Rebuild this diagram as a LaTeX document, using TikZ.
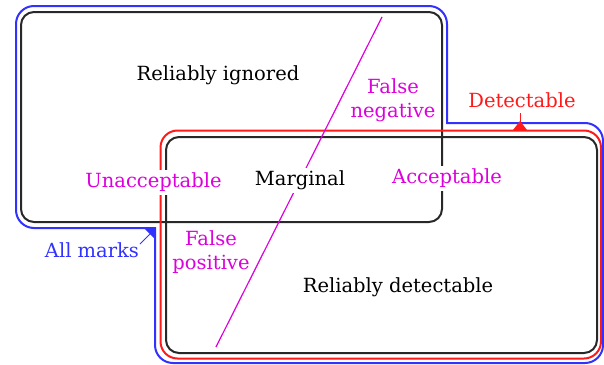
\documentclass[tikz,border=0pt]{standalone}
\usepackage{fontspec}
\setmainfont{DejaVu Serif}
\usetikzlibrary{calc}

\definecolor{outlineblack}{RGB}{40,40,40}
\definecolor{allblue}{RGB}{50,50,255}
\definecolor{detred}{RGB}{255,25,25}
\definecolor{labelmag}{RGB}{220,0,220}

\begin{document}
\begin{tikzpicture}[x=1pt,y=-1pt,
  region/.style={draw=outlineblack,line width=2pt,rounded corners=13pt},
  lbl/.style={font=\fontsize{19.5}{24}\selectfont,inner sep=1pt,align=center},
  maglbl/.style={lbl,text=labelmag},
  cover/.style={fill=white,inner xsep=2pt,inner ysep=2pt,text height=15pt,text depth=6pt},
]

\useasboundingbox (0,0) rectangle (604,364);

% the two regions
\draw[region] (21,12) rectangle (442,222);
\draw[region] (166,137) rectangle (597,353);

% outline of the detectable region
\draw[detred,line width=2pt,rounded corners=17pt] (160.5,130.5) rectangle (601,358.5);

% outline of all marks: convex corners rounded, the two inner corners sharp
\draw[allblue,line width=2pt]
  (16,150) [rounded corners=18pt] -- (16,6) -- (447,6)
  [sharp corners] -- (447,123)
  [rounded corners=18pt] -- (603,123) -- (603,363) -- (155,363)
  [sharp corners] -- (155,228)
  [rounded corners=18pt] -- (16,228) -- cycle;

% threshold line
\coordinate (thTop) at (382,17);
\coordinate (thBot) at (216,347);
\draw[labelmag,line width=1.2pt] (thTop) -- (thBot);

% labels
\node[lbl,anchor=base] (ign) at (218,80) {Reliably ignored};
\node[lbl,anchor=base] (rdet) at (398,292) {Reliably detectable};
\node[lbl,anchor=base,cover] (marg) at (300,185) {Marginal};
\node[maglbl,anchor=base,cover] (unacc) at (153.5,187) {Unacceptable};
\node[maglbl,anchor=base,cover] (acc) at (447,183) {Acceptable};
\node[maglbl] (fneg) at (393,100) {False\\negative};
\node[maglbl] (fpos) at (211,252) {False\\positive};
\node[lbl,anchor=base,text=detred] (det) at (522,107) {Detectable};
\node[lbl,anchor=base,text=allblue] (all) at (92,257) {All marks};

% pointer from "Detectable" to its outline
\coordinate (detTip) at (520,130);
\coordinate (detStem) at (520,113);
\draw[detred,line width=1pt] (detStem) -- (detTip);
\fill[detred] ($(detTip)+(-7,0)$) -- ($(detTip)+(7,0)$) -- ($(detTip)+(0,-9)$) -- cycle;

% pointer from "All marks" to its outline
\coordinate (allCorner) at (155,228);
\coordinate (allLead) at (140,244);
\draw[allblue,line width=1pt] (allLead) -- ($(allCorner)+(-4,5)$);
\fill[allblue] ($(allCorner)+(-11,0)$) -- (allCorner) -- ($(allCorner)+(0,11)$) -- cycle;

\end{tikzpicture}
\end{document}
